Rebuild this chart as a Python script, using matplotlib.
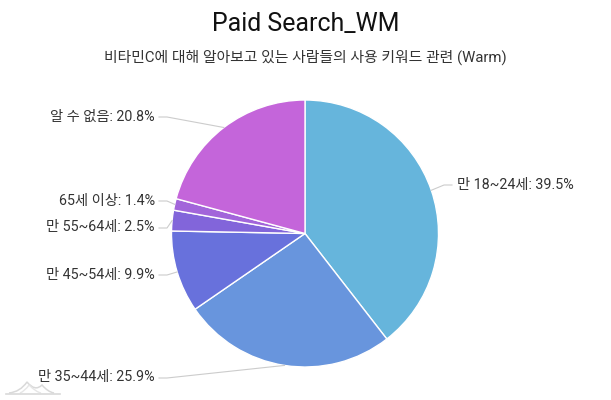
import matplotlib
matplotlib.use('Agg')
import matplotlib.pyplot as plt
from matplotlib.patches import PathPatch
from matplotlib.path import Path
import numpy as np

plt.rcParams['font.family'] = ['Roboto', 'Noto Sans CJK KR', 'DejaVu Sans']

# Datos
categorias = ['만 18~24세', '만 35~44세', '만 45~54세', '만 55~64세', '65세 이상', '알 수 없음']
valores = [39.5, 25.9, 9.9, 2.5, 1.4, 20.8]
colores = ['#66B5DC', '#6895DD', '#6871DC', '#8265DA', '#A265DA', '#C465DA']

titulo = 'Paid Search_WM'
subtitulo = '비타민C에 대해 알아보고 있는 사람들의 사용 키워드 관련 (Warm)'

# Posicion de las etiquetas en pixeles
etiqueta_x = [457, 155, 155, 155, 155, 155]
etiqueta_y = [185, 378, 275, 228, 201, 117]

W, H = 611, 400
cx, cy, r = 305, 233.5, 133.5

fig = plt.figure(figsize=(W / 100, H / 100), dpi=100, facecolor='white')

# Torta
ax = fig.add_axes([(cx - r) / W, 1 - (cy + r) / H, 2 * r / W, 2 * r / H])
ax.pie(valores, colors=colores, startangle=90, counterclock=False,
       wedgeprops={'edgecolor': 'white', 'linewidth': 1})
ax.set_xlim(-1, 1)
ax.set_ylim(-1, 1)

# Capa en pixeles para textos y conectores
capa = fig.add_axes([0, 0, 1, 1])
capa.set_xlim(0, W)
capa.set_ylim(H, 0)
capa.axis('off')
capa.patch.set_alpha(0)

capa.text(W / 2, 24, titulo, ha='center', va='center', fontsize=17.9, color='#111111')
capa.text(W / 2, 57, subtitulo, ha='center', va='center', fontsize=10.7, color='#333333')

total = sum(valores)
acum = 0
for nombre, v, lx, ly in zip(categorias, valores, etiqueta_x, etiqueta_y):
    ang = np.deg2rad((acum + v / 2) / total * 360)
    acum += v
    px = cx + r * np.sin(ang)
    py = cy - r * np.cos(ang)
    if lx > cx:
        xs = [px, lx - 13, lx - 5]
        ha = 'left'
    else:
        xs = [px, lx + 12, lx + 4]
        ha = 'right'
    capa.plot(xs, [py, ly, ly], color='#CCCCCC', lw=0.8, solid_joinstyle='round')
    capa.text(lx, ly - 0.5, '{}: {}%'.format(nombre, v), ha=ha, va='center',
              fontsize=10.3, color='#333333')

# Logo gris de abajo a la izquierda
capa.plot([6, 60], [393.5, 393.5], color='#D9D9D9', lw=1.2)
curva = Path([(9, 393), (20, 392), (27, 382), (35, 392), (42, 385), (48, 392), (54, 393)],
             [Path.MOVETO, Path.CURVE3, Path.CURVE3, Path.CURVE3, Path.CURVE3, Path.CURVE3, Path.CURVE3])
capa.add_patch(PathPatch(curva, fill=False, edgecolor='#D9D9D9', lw=1.1))
curva2 = Path([(20, 393), (25, 391), (29, 385), (36, 392), (41, 393)],
              [Path.MOVETO, Path.CURVE3, Path.CURVE3, Path.CURVE3, Path.CURVE3])
capa.add_patch(PathPatch(curva2, fill=False, edgecolor='#E6E6E6', lw=1))

fig.savefig('out.png', dpi=100)
